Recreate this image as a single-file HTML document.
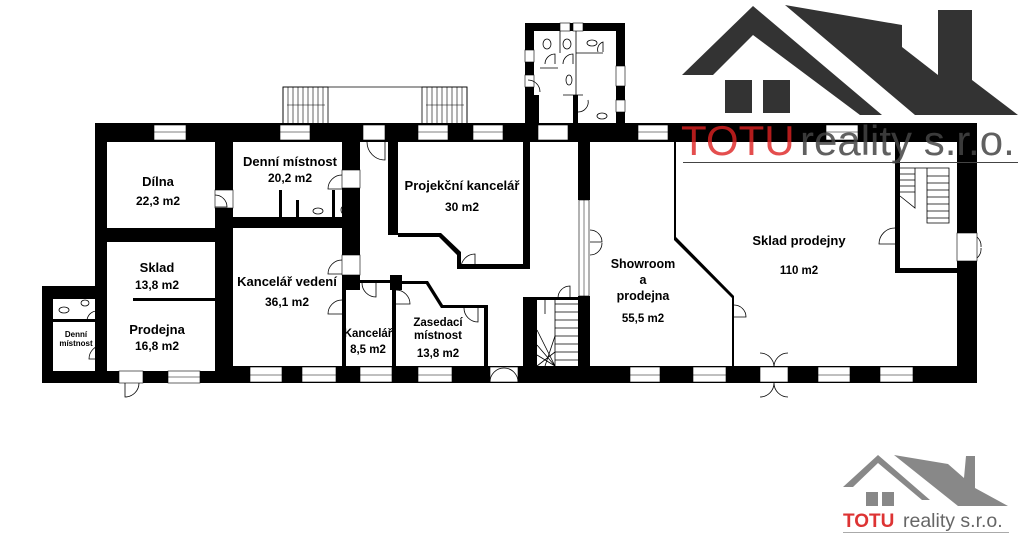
<!DOCTYPE html>
<html><head><meta charset="utf-8"><style>
html,body{margin:0;padding:0;background:#fff;}
svg{display:block;}
text{font-family:"Liberation Sans",sans-serif;font-weight:bold;fill:#000;text-anchor:middle;}
</style></head><body>
<svg width="1024" height="546" viewBox="0 0 1024 546" xmlns="http://www.w3.org/2000/svg">
<g fill="#333">
<polygon points="682,75 753,6 882,115 860,115 753,35 713,75"/>
<polygon points="785,5 902,25 902,47 938,75 938,10 972,10 972,80 1018,115 915,115"/>
<rect x="725" y="80" width="27" height="33"/>
<rect x="763" y="80" width="27" height="33"/>
</g>
<g fill="none" stroke="#000" stroke-width="0.8">
<polyline points="283,124 283,87 467,87 467,124"/>
<rect x="283" y="87" width="45" height="37"/>
<rect x="422" y="87" width="45" height="37"/>
<g stroke-width="0.6">
<path d="M288,87v37M293,87v37M298,87v37M303,87v37M308,87v37M313,87v37M318,87v37M323,87v37M427,87v37M432,87v37M437,87v37M442,87v37M447,87v37M452,87v37M457,87v37M462,87v37"/>
<path d="M287,105h38M426,105h38"/>
</g>
</g>
<g fill="#000">
<rect x="525" y="23" width="100" height="8"/>
<rect x="525" y="23" width="9" height="102"/>
<rect x="616" y="23" width="9" height="102"/>
<rect x="534" y="95" width="5" height="30"/>
<rect x="573" y="95" width="5" height="30"/>
</g>
<g fill="#fff" stroke="#000" stroke-width="0.6">
<rect x="560" y="23" width="10" height="8"/><rect x="573" y="23" width="10" height="8"/>
<rect x="525" y="50" width="9" height="12"/><rect x="525" y="75" width="9" height="12"/>
<rect x="616" y="66" width="9" height="20"/><rect x="616" y="100" width="9" height="12"/>
</g>
<g fill="none" stroke="#000" stroke-width="0.8">
<path d="M560,31v22M576,31v22M576,53h27M540,68h18M563,95h20M576,53v72"/>
<path d="M545,64a10,10 0 0 1 10,-10v10M563,64a10,10 0 0 1 10,-10v10M598,52a8,8 0 0 1 5,-10v10M540,92a12,12 0 0 0 -12,-12M578,112a10,10 0 0 0 10,-12"/>
<ellipse cx="547" cy="44" rx="4" ry="5"/><ellipse cx="567" cy="44" rx="4" ry="5"/><ellipse cx="592" cy="43" rx="5" ry="3"/><ellipse cx="569" cy="80" rx="3" ry="5"/><ellipse cx="602" cy="116" rx="5" ry="3"/>
</g>
<g fill="#000">
<rect x="95" y="123" width="882" height="19"/>
<rect x="95" y="123" width="12" height="260"/>
<rect x="42" y="286" width="65" height="13"/>
<rect x="42" y="286" width="11" height="97"/>
<rect x="42" y="371" width="935" height="12"/>
<rect x="215" y="366" width="762" height="17"/>
<rect x="53" y="319" width="52" height="3"/>
<rect x="103" y="299" width="4" height="72"/>
<rect x="107" y="228" width="108" height="14"/>
<rect x="133" y="298" width="82" height="3"/>
<rect x="215" y="123" width="18" height="260"/>
<rect x="233" y="217" width="127" height="11"/>
<rect x="342" y="142" width="18" height="148"/>
<rect x="279" y="190" width="3" height="27"/><rect x="296" y="200" width="3" height="17"/><rect x="332" y="190" width="3" height="27"/>
<rect x="342" y="280" width="4" height="90"/>
<rect x="360" y="280" width="42" height="3"/>
<rect x="390" y="275" width="12" height="15"/>
<rect x="392" y="290" width="4" height="80"/>
<polygon points="400,281 428,281 443,305 486,305 486,308 441,308 426,284 400,284"/>
<rect x="484" y="305" width="4" height="65"/>
<rect x="388" y="123" width="10" height="112"/>
<polygon points="398,233 441,233 461,252 461,265 457,265 457,255 439,237 398,237"/>
<rect x="457" y="264" width="73" height="5"/>
<rect x="523" y="142" width="7" height="127"/>
<rect x="578" y="142" width="12" height="58"/>
<rect x="578" y="296" width="12" height="80"/>
<rect x="523" y="297" width="14" height="75"/>
<rect x="537" y="297" width="41" height="3"/>
<rect x="674" y="142" width="2" height="96"/>
<polygon points="674,237 676,237 734,296 734,298 732,298 674,240"/>
<rect x="732" y="297" width="2" height="70"/>
<rect x="957" y="123" width="20" height="260"/>
<rect x="895" y="140" width="5" height="133"/>
<rect x="895" y="268" width="62" height="5"/>
</g>
<g fill="#fff" stroke="#000" stroke-width="0.6">
<rect x="154" y="125" width="32" height="15"/><rect x="280" y="125" width="30" height="15"/>
<rect x="418" y="125" width="30" height="15"/><rect x="473" y="125" width="30" height="15"/>
<rect x="538" y="125" width="30" height="15"/><rect x="638" y="125" width="30" height="15"/>
<rect x="826" y="125" width="32" height="15"/>
<rect x="363" y="125" width="22" height="15"/>
<rect x="168" y="371" width="32" height="12"/><rect x="119" y="371" width="24" height="12"/>
<rect x="250" y="367" width="32" height="15"/><rect x="302" y="367" width="34" height="15"/>
<rect x="360" y="367" width="32" height="15"/><rect x="418" y="367" width="34" height="15"/>
<rect x="490" y="367" width="28" height="15"/>
<rect x="630" y="367" width="30" height="15"/><rect x="693" y="367" width="33" height="15"/>
<rect x="760" y="367" width="28" height="15"/>
<rect x="818" y="367" width="32" height="15"/><rect x="880" y="367" width="33" height="15"/>
<rect x="579" y="200" width="10" height="96"/>
<rect x="957" y="233" width="20" height="28"/>
<rect x="215" y="190" width="18" height="18"/>
<rect x="342" y="170" width="18" height="18"/>
<rect x="342" y="255" width="18" height="20"/>
</g>
<path d="M154,132h32M280,132h30M418,132h30M473,132h30M638,132h30M826,132h32M168,377h32M250,375h32M302,375h34M360,375h32M418,375h34M630,375h30M693,375h33M818,375h32M880,375h33M584,200v96" stroke="#000" stroke-width="0.5"/>
<g fill="none" stroke="#000" stroke-width="0.8">
<path d="M385,142v18a18,18 0 0 1 -18,-18"/>
<path d="M342,175a14,14 0 0 0 -14,14h14"/>
<path d="M215,195a12,12 0 0 1 12,12h-12"/>
<path d="M342,260a14,14 0 0 0 -14,14h14"/>
<path d="M362,283a14,14 0 0 0 14,14v-14"/>
<path d="M396,290a14,14 0 0 1 14,14h-14"/>
<path d="M342,300a14,14 0 0 0 -14,14h14"/>
<path d="M461,268a14,14 0 0 1 14,-14v14"/>
<path d="M464,308a14,14 0 0 0 14,14v-14"/>
<path d="M103,345a14,14 0 0 0 -14,14h14"/>
<path d="M125,383v14a14,14 0 0 0 14,-14"/>
<path d="M590,230a12,12 0 0 1 12,12h-12M590,255a12,12 0 0 0 12,-12"/>
<path d="M734,305a12,12 0 0 1 12,12h-12"/>
<path d="M895,228a16,16 0 0 0 -16,16h16"/>
<path d="M977,237a12,12 0 0 1 4,10M977,258a12,12 0 0 0 4,-10"/>
<path d="M760,353a14,14 0 0 1 14,14M788,353a14,14 0 0 0 -14,14M760,397a14,14 0 0 0 14,-14M788,397a14,14 0 0 1 -14,-14"/>
<path d="M490,382a14,14 0 0 1 14,-14M518,382a14,14 0 0 0 -14,-14"/>
<path d="M558,298a12,12 0 0 1 12,-12v12"/>
<path d="M545,300v14"/>
<ellipse cx="318" cy="211" rx="5" ry="3"/><ellipse cx="344" cy="210" rx="3" ry="4"/>
<ellipse cx="64" cy="310" rx="5" ry="3"/><ellipse cx="85" cy="303" rx="4" ry="3"/>
<path d="M87,321a10,10 0 0 1 10,-10v10"/>
<path d="M555,300v66M578,304h-23M578,312h-23M578,320h-23M578,328h-23M578,336h-23M578,344h-23M578,352h-23M578,360h-23"/>
<path d="M537,330l18,36M537,345l18,21M537,355l18,11M545,366l10,-30M537,366l18,-14"/>
<path d="M900,168h15v40l-15,-12M915,168h34v55h-22v-55"/>
<path d="M900,174h15M900,180h15M900,186h15M900,192h15M927,176h22M927,183h22M927,190h22M927,197h22M927,204h22M927,211h22M927,218h22"/>
</g>
<text x="158" y="186" font-size="13">Dílna</text>
<text x="158" y="205" font-size="12">22,3 m2</text>
<text x="290" y="166" font-size="13">Denní místnost</text>
<text x="290" y="182" font-size="12">20,2 m2</text>
<text x="462" y="190" font-size="13">Projekční kancelář</text>
<text x="462" y="211" font-size="12">30 m2</text>
<text x="157" y="272" font-size="13">Sklad</text>
<text x="157" y="289" font-size="12">13,8 m2</text>
<text x="157" y="334" font-size="13">Prodejna</text>
<text x="157" y="350" font-size="12">16,8 m2</text>
<text x="76" y="337" font-size="8">Denní</text>
<text x="76" y="346" font-size="8">místnost</text>
<text x="287" y="286" font-size="13">Kancelář vedení</text>
<text x="287" y="306" font-size="12">36,1  m2</text>
<text x="368" y="337" font-size="11.5">Kancelář</text>
<text x="368" y="353" font-size="11.5">8,5 m2</text>
<text x="438" y="326" font-size="11.5">Zasedací</text>
<text x="438" y="339" font-size="11.5">místnost</text>
<text x="438" y="357" font-size="11.5">13,8 m2</text>
<text x="643" y="268" font-size="12.5">Showroom</text>
<text x="643" y="284" font-size="12.5">a</text>
<text x="643" y="300" font-size="12.5">prodejna</text>
<text x="643" y="322" font-size="11.5">55,5 m2</text>
<text x="799" y="245" font-size="13">Sklad prodejny</text>
<text x="799" y="274" font-size="11.5">110 m2</text>
<text x="681" y="155" font-size="42" style="text-anchor:start;font-weight:normal;fill:#d22;fill-opacity:0.8">TOTU</text>
<text x="800" y="155" font-size="42" style="text-anchor:start;font-weight:normal;fill:#444;fill-opacity:0.85">reality s.r.o.</text>
<rect x="683" y="162" width="335" height="1" fill="#444"/>
<g fill="#888">
<polygon points="843,487 878,455 930,500 922,500 878,463 853,487"/>
<polygon points="894,455 948,464 964,478 966,456 975,456 975,488 1008,506 958,506"/>
<rect x="866" y="492" width="12" height="14"/><rect x="882" y="492" width="12" height="14"/>
</g>
<text x="843" y="527" font-size="19" style="text-anchor:start;fill:#d33">TOTU</text>
<text x="903" y="527" font-size="19.5" style="text-anchor:start;font-weight:normal;fill:#666">reality s.r.o.</text>
<rect x="843" y="532" width="166" height="1" fill="#aaa"/>
</svg>
</body></html>
